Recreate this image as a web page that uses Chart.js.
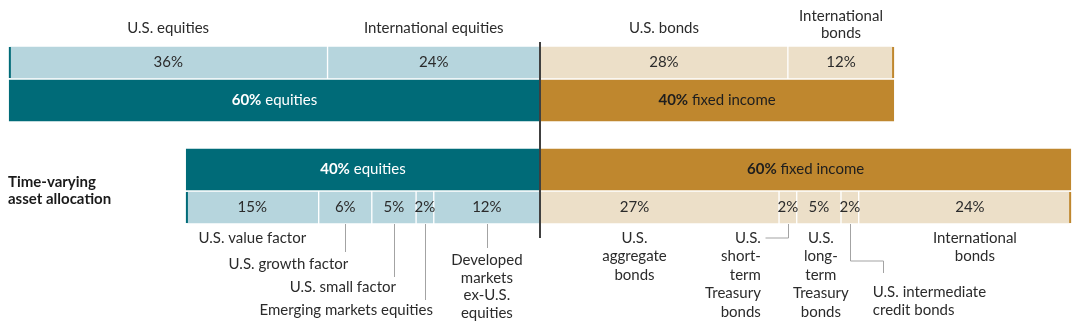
<!DOCTYPE html>
<html>
<head>
<meta charset="utf-8">
<script src="https://cdn.jsdelivr.net/npm/chart.js@4.4.1/dist/chart.umd.min.js"></script>
<style>
  html, body { margin: 0; padding: 0; background: #fff; }
  #wrap { width: 1080px; height: 332px; }
</style>
</head>
<body>
<div id="wrap"><canvas id="chart" width="1080" height="332"></canvas></div>
<script>
// --- data ---
const portfolioNames = ['', 'Time-varying\nasset allocation'];
const classNames = ['equities', 'fixed income'];

const fixedEquityNames = ['U.S. equities', 'International equities'];
const fixedEquityValues = [36, 24];
const fixedBondNames = ['U.S. bonds', 'International\nbonds'];
const fixedBondValues = [28, 12];

const tvaaEquityNames = ['U.S. value factor', 'U.S. growth factor', 'U.S. small factor',
    'Emerging markets equities', 'Developed\nmarkets\nex-U.S.\nequities'];
const tvaaEquityValues = [15, 6, 5, 2, 12];
const tvaaBondNames = ['U.S.\naggregate\nbonds', 'U.S.\nshort-\nterm\nTreasury\nbonds',
    'U.S.\nlong-\nterm\nTreasury\nbonds', 'U.S. intermediate\ncredit bonds', 'International\nbonds'];
const tvaaBondValues = [27, 2, 5, 2, 24];

// --- look ---
const COLORS = {
    eqDark: '#006b78', eqLight: '#b6d5dd',
    fiDark: '#bf872e', fiLight: '#ecdfc8',
    text: '#2b2b2b', leader: '#a3a3a3', rail: '#404040'
};
const FONT = 'Lato, "Open Sans", sans-serif';
const FS = 15;

// label placement, px from segment centre (dx) and bar edge (dy)
const topLabelLayout = [{ dy: -18 }, { dy: -18 }, { dy: -18 }, { dy: -30 }];
const tvaaLabelLayout = [
    { align: 'center', dy: 14 },
    { align: 'right', dx: 3, dy: 40, leader: [[0, 0], [0, 28]] },
    { align: 'right', dx: 2, dy: 63, leader: [[0, 0], [0, 53]] },
    { align: 'right', dx: 8, dy: 86, leader: [[0, 0], [0, 76]] },
    { align: 'center', dy: 36, lh: 17.7, leader: [[0, 0], [0, 24]] },
    { align: 'center', dx: -25, dy: 14, valueDx: -25 },
    { align: 'right', dx: -27, dy: 14, leader: [[0, 0], [0, 14], [-23, 14]] },
    { align: 'center', dx: 2, dy: 14 },
    { align: 'left', dx: 23, dy: 68, leader: [[0, 0], [0, 37], [33, 37], [33, 49]] },
    { align: 'center', dx: 10, dy: 14, valueDx: 5 }
];

const sum = arr => arr.reduce((a, b) => a + b, 0);

// floating spans: equities end at 0, fixed income starts at 0
function spans(eqVals, fiVals) {
    const out = [];
    let x = -sum(eqVals);
    eqVals.concat(fiVals).forEach(v => { out.push([x, x + v]); x += v; });
    return out;
}

const datasets = [];
function addDetailRow(row, stack, eqNames, eqVals, fiNames, fiVals, layouts, side) {
    const s = spans(eqVals, fiVals);
    const names = eqNames.concat(fiNames);
    const vals = eqVals.concat(fiVals);
    s.forEach((span, i) => {
        const isEq = i < eqVals.length;
        datasets.push({
            stack, kind: 'detail', side, name: names[i], value: vals[i], layout: layouts[i] || {},
            cap: i === 0 ? 'left' : (i === s.length - 1 ? 'right' : null),
            capColor: isEq ? COLORS.eqDark : COLORS.fiDark,
            data: row === 0 ? [span, null] : [null, span],
            backgroundColor: isEq ? COLORS.eqLight : COLORS.fiLight,
            borderColor: '#fff', borderWidth: 1, borderSkipped: false, barThickness: 33
        });
    });
}
function addMainRow(row, stack, eqVals, fiVals) {
    const totals = [sum(eqVals), sum(fiVals)];
    spans([totals[0]], [totals[1]]).forEach((span, i) => {
        datasets.push({
            stack, kind: 'main', name: classNames[i], value: totals[i],
            textColor: i === 0 ? '#ffffff' : '#1e1e1e',
            data: row === 0 ? [span, null] : [null, span],
            backgroundColor: i === 0 ? COLORS.eqDark : COLORS.fiDark,
            borderColor: '#fff', borderWidth: { top: 1, bottom: 1, left: 0, right: 0 },
            borderSkipped: false, barThickness: 43
        });
    });
}

addDetailRow(0, 'a', fixedEquityNames, fixedEquityValues, fixedBondNames, fixedBondValues, topLabelLayout, 'above');
addMainRow(0, 'b', fixedEquityValues, fixedBondValues);
addMainRow(1, 'c', tvaaEquityValues, tvaaBondValues);
addDetailRow(1, 'd', tvaaEquityNames, tvaaEquityValues, tvaaBondNames, tvaaBondValues, tvaaLabelLayout, 'below');

function drawLines(ctx, text, x, y, lh) {
    text.split('\n').forEach((line, k) => ctx.fillText(line, x, y + k * lh));
}

const annotate = {
    id: 'annotate',
    afterDatasetsDraw(chart) {
        const ctx = chart.ctx;
        const xs = chart.scales.x, ys = chart.scales.y;
        let railTop = Infinity, railBottom = -Infinity;
        ctx.save();
        ctx.textBaseline = 'middle';
        chart.data.datasets.forEach((ds, i) => {
            const idx = ds.data.findIndex(d => d !== null);
            const el = chart.getDatasetMeta(i).data[idx];
            const { x, base, y, height } = el.getProps(['x', 'base', 'y', 'height'], true);
            const left = Math.min(x, base), right = Math.max(x, base);
            const cx = (left + right) / 2;
            const top = y - height / 2, bottom = y + height / 2;

            if (ds.kind === 'main') {
                const bold = ds.value + '%', rest = ' ' + ds.name;
                ctx.font = 'bold ' + FS + 'px ' + FONT;
                const wb = ctx.measureText(bold).width;
                ctx.font = FS + 'px ' + FONT;
                const wr = ctx.measureText(rest).width;
                const sx = cx - (wb + wr) / 2;
                ctx.fillStyle = ds.textColor;
                ctx.textAlign = 'left';
                ctx.font = 'bold ' + FS + 'px ' + FONT;
                ctx.fillText(bold, sx, y);
                ctx.font = FS + 'px ' + FONT;
                ctx.fillText(rest, sx + wb, y);
                return;
            }

            railTop = Math.min(railTop, top);
            railBottom = Math.max(railBottom, bottom);
            const L = ds.layout;

            // end caps
            if (ds.cap) {
                ctx.fillStyle = ds.capColor;
                const capX = ds.cap === 'left' ? left : right - 2;
                ctx.fillRect(capX, top + 1, 2, height - 2);
            }

            ctx.font = FS + 'px ' + FONT;
            ctx.fillStyle = COLORS.text;
            ctx.textAlign = 'center';
            ctx.fillText(ds.value + '%', cx + (L.valueDx || 0), y);

            if (ds.side === 'above') {
                drawLines(ctx, ds.name, cx, top + L.dy, 17);
                return;
            }

            const ax = cx + (L.dx || 0);
            if (L.leader) {
                ctx.strokeStyle = COLORS.leader;
                ctx.lineWidth = 1;
                ctx.beginPath();
                L.leader.forEach(([lx, ly], k) => {
                    const px = Math.round(cx + lx) + 0.5, py = bottom + ly;
                    if (k === 0) ctx.moveTo(px, py); else ctx.lineTo(px, py);
                });
                ctx.stroke();
            }
            ctx.fillStyle = COLORS.text;
            ctx.textAlign = L.align;
            drawLines(ctx, ds.name, ax, bottom + L.dy, L.lh || 18.5);
        });

        // centre rail between equities and fixed income
        const x0 = Math.round(xs.getPixelForValue(0));
        ctx.fillStyle = COLORS.rail;
        ctx.fillRect(x0 - 1, railTop - 4, 2, railBottom - railTop + 18);

        // portfolio names
        ctx.font = 'bold ' + FS + 'px ' + FONT;
        ctx.fillStyle = '#1a1a1a';
        ctx.textAlign = 'left';
        portfolioNames.forEach((n, i) => {
            if (!n) return;
            const lines = n.split('\n');
            const py = ys.getPixelForValue(i) - (lines.length - 1) * 17 / 2;
            drawLines(ctx, n, 8, py, 17);
        });
        ctx.restore();
    }
};

new Chart(document.getElementById('chart'), {
    type: 'bar',
    data: { labels: portfolioNames, datasets },
    options: {
        indexAxis: 'y',
        responsive: false,
        animation: false,
        events: [],
        skipNull: true,
        clip: false,
        layout: { padding: { top: 79, bottom: 141, left: 0, right: 0 } },
        scales: {
            x: { type: 'linear', min: -61, max: 61, stacked: false, display: false, grid: { display: false } },
            y: { type: 'category', offset: false, display: false, grid: { display: false } }
        },
        plugins: { legend: { display: false }, tooltip: { enabled: false } }
    },
    plugins: [annotate]
});
</script>
</body>
</html>
